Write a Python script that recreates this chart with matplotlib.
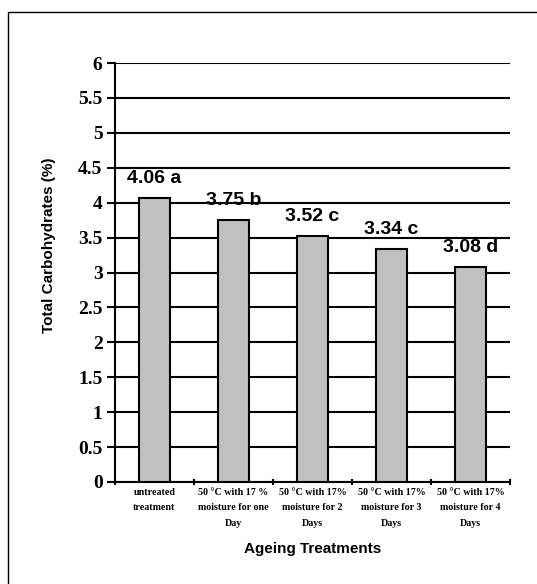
import matplotlib
matplotlib.use("Agg")
import matplotlib.pyplot as plt
from matplotlib.patches import Rectangle
import numpy as np

categories = [
    "untreated\ntreatment",
    "50 °C with 17 %\nmoisture for one\nDay",
    "50 °C with 17%\nmoisture for 2\nDays",
    "50 °C with 17%\nmoisture for 3\nDays",
    "50 °C with 17%\nmoisture for 4\nDays",
]
values = [4.06, 3.75, 3.52, 3.34, 3.08]
letters = ["a", "b", "c", "c", "d"]
yticks = [0, 0.5, 1, 1.5, 2, 2.5, 3, 3.5, 4, 4.5, 5, 5.5, 6]

W, H = 537, 584
fig = plt.figure(figsize=(W / 100, H / 100), dpi=100)
ax = fig.add_axes([115 / W, 1 - 482 / H, (510 - 115) / W, (482 - 63) / H])

# outer frame (runs off the right and bottom edge)
fig.patches.append(Rectangle((8 / W, -0.1), 1.2, (H - 12) / H + 0.1,
                             transform=fig.transFigure, fill=False,
                             edgecolor="black", linewidth=1.0))

x = np.arange(len(values))
ax.bar(x, values, width=0.4, color="#c0c0c0", edgecolor="black",
       linewidth=1.5, zorder=3)

for xi, v, l in zip(x, values, letters):
    ax.text(xi, v + 0.16, f"{v:.2f} {l}", ha="center", va="bottom",
            fontsize=14, fontweight="bold", family="Liberation Sans", zorder=4)

ax.set_xlim(-0.5, len(values) - 0.5)
ax.set_ylim(0, 6)
ax.set_yticks(yticks)
ax.set_yticklabels([f"{t:g}" for t in yticks], family="Liberation Serif",
                   fontweight="bold", fontsize=14)
ax.yaxis.grid(True, color="black", linewidth=1.5, zorder=0)
ax.tick_params(axis="y", direction="out", length=6, width=1.5, pad=3)

ax.set_xticks(x)
ax.set_xticklabels(categories, family="Liberation Serif", fontweight="bold",
                   fontsize=7.2, linespacing=1.95)
ax.tick_params(axis="x", length=0, pad=4)
ax.set_xticks(np.arange(-0.5, len(values)), minor=True)
ax.tick_params(axis="x", which="minor", direction="inout", length=5, width=1.5)

for s in ["top", "right"]:
    ax.spines[s].set_visible(False)
for s in ["left", "bottom"]:
    ax.spines[s].set_linewidth(1.5)

ax.set_ylabel("Total Carbohydrates (%)", family="Liberation Sans",
              fontweight="bold", fontsize=11)
ax.yaxis.set_label_coords(-0.15, 0.566)
ax.set_xlabel("Ageing Treatments", family="Liberation Sans",
              fontweight="bold", fontsize=11, labelpad=10)

fig.savefig("out.png", dpi=100)
